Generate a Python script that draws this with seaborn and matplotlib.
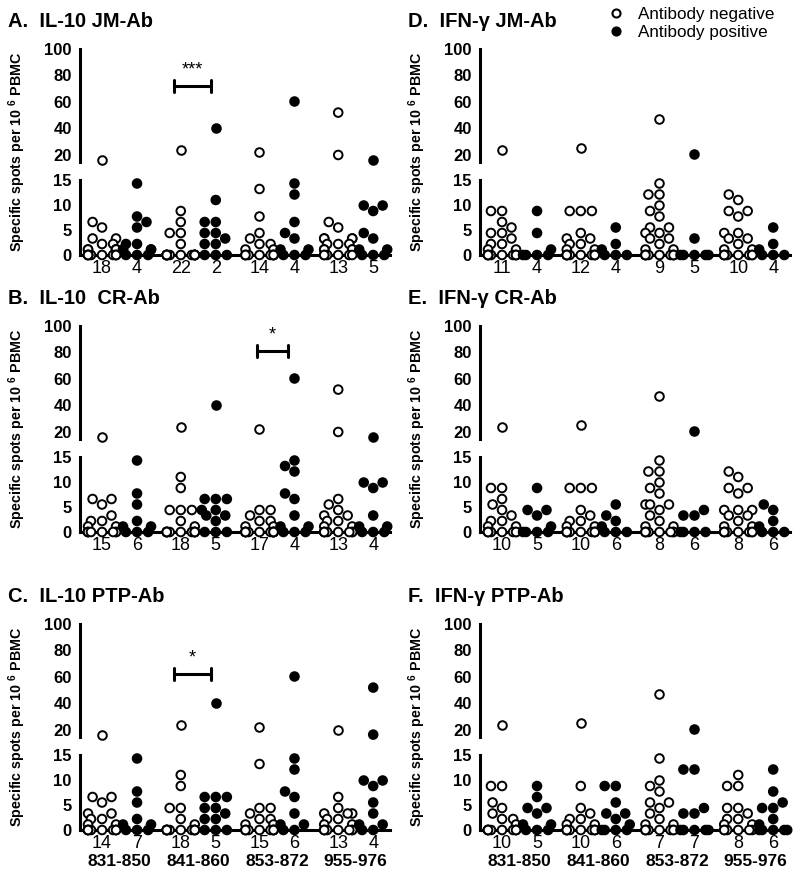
import matplotlib
matplotlib.use('Agg')
import matplotlib.pyplot as plt
from matplotlib.lines import Line2D
import pandas as pd
import seaborn as sns

# ---- data (specific spots per 10^6 PBMC), one list per peptide ----
peptides = ['831-850', '841-860', '853-872', '955-976']

# A. IL-10 JM-Ab
a_neg = [[16, 6.6, 5.5, 3.3, 3.3, 2.2, 2.2, 1.1, 1.1, 1.1, 1.1, 1.1, 0, 0, 0, 0, 0, 0, 0, 0, 0, 0],
         [24, 8.8, 6.6, 4.4, 4.4, 2.2, 0, 0, 0, 0, 0, 0, 0, 0, 0, 0, 0, 0, 0, 0, 0],
         [22, 13.2, 7.7, 4.4, 3.3, 2.2, 2.2, 1.1, 1.1, 0, 0, 0, 0, 0, 0, 0, 0, 0, 0],
         [52, 20, 6.6, 5.5, 3.3, 3.3, 3.3, 3.3, 2.2, 2.2, 2.2, 1.1, 1.1, 1.1, 1.1, 0, 0, 0, 0, 0, 0]]
a_pos = [[14.3, 7.7, 6.6, 5.5, 2.2, 2.2, 1.1, 1.1, 1.1, 1.1, 0, 0, 0],
         [40, 11, 6.6, 6.6, 4.4, 4.4, 3.3, 2.2, 2.2, 0, 0, 0],
         [61, 14.3, 12.1, 6.6, 4.4, 3.3, 1.1, 1.1, 0, 0, 0],
         [16.5, 9.9, 9.9, 8.8, 4.4, 3.3, 1.1, 1.1, 0, 0, 0]]
a_counts = [18, 4, 22, 2, 14, 4, 13, 5]

# B. IL-10 CR-Ab
b_neg = [[16, 6.6, 6.6, 5.5, 3.3, 2.2, 2.2, 1.1, 1.1, 0, 0, 0, 0, 0, 0, 0, 0],
         [24, 11, 8.8, 4.4, 4.4, 4.4, 2.2, 1.1, 0, 0, 0, 0, 0, 0, 0, 0, 0, 0, 0, 0],
         [22, 4.4, 4.4, 3.3, 2.2, 2.2, 1.1, 1.1, 0, 0, 0, 0, 0, 0, 0, 0, 0, 0, 0, 0],
         [52, 20, 6.6, 5.5, 4.4, 3.3, 3.3, 2.2, 2.2, 1.1, 1.1, 0, 0, 0, 0, 0, 0, 0, 0]]
b_pos = [[14.3, 7.7, 5.5, 2.2, 1.1, 1.1, 0, 0, 0],
         [40, 6.6, 6.6, 6.6, 4.4, 4.4, 3.3, 3.3, 2.2, 0, 0, 0],
         [61, 14.3, 13.2, 12.1, 7.7, 6.6, 3.3, 1.1, 1.1, 0, 0, 0],
         [16.5, 9.9, 9.9, 8.8, 3.3, 1.1, 1.1, 0, 0, 0]]
b_counts = [15, 6, 18, 5, 17, 4, 13, 4]

# C. IL-10 PTP-Ab
c_neg = [[16, 6.6, 6.6, 5.5, 3.3, 3.3, 2.2, 2.2, 1.1, 1.1, 0, 0, 0, 0, 0, 0, 0, 0, 0, 0],
         [24, 11, 8.8, 4.4, 4.4, 2.2, 1.1, 0, 0, 0, 0, 0, 0, 0, 0, 0, 0, 0, 0],
         [22, 13.2, 4.4, 4.4, 3.3, 2.2, 2.2, 1.1, 1.1, 0, 0, 0, 0, 0, 0, 0, 0, 0, 0],
         [20, 6.6, 4.4, 3.3, 3.3, 3.3, 2.2, 2.2, 1.1, 1.1, 0, 0, 0, 0, 0, 0, 0, 0]]
c_pos = [[14.3, 7.7, 5.5, 2.2, 1.1, 1.1, 0, 0, 0],
         [40, 6.6, 6.6, 6.6, 4.4, 4.4, 3.3, 2.2, 2.2, 0, 0, 0],
         [61, 14.3, 12.1, 7.7, 6.6, 3.3, 1.1, 1.1, 0, 0],
         [52, 16.5, 9.9, 9.9, 8.8, 5.5, 3.3, 1.1, 1.1, 0, 0]]
c_counts = [14, 7, 18, 5, 15, 6, 13, 4]

# D. IFN-g JM-Ab
d_neg = [[24, 8.8, 8.8, 6.6, 5.5, 4.4, 4.4, 3.3, 2.2, 2.2, 1.1, 1.1, 0, 0, 0, 0, 0, 0, 0, 0, 0, 0],
         [25, 8.8, 8.8, 8.8, 4.4, 3.3, 3.3, 2.2, 2.2, 1.1, 1.1, 0, 0, 0, 0, 0, 0, 0, 0, 0, 0],
         [47, 14.3, 12.1, 12.1, 9.9, 8.8, 7.7, 5.5, 5.5, 4.4, 4.4, 3.3, 3.3, 2.2, 1.1, 1.1, 0, 0, 0, 0, 0, 0, 0, 0, 0, 0],
         [12.1, 11, 8.8, 8.8, 7.7, 4.4, 4.4, 3.3, 3.3, 2.2, 1.1, 1.1, 0, 0, 0, 0, 0, 0, 0, 0]]
d_pos = [[8.8, 4.4, 1.1, 0, 0, 0, 0],
         [5.5, 2.2, 1.1, 0, 0, 0],
         [21, 3.3, 0, 0, 0, 0, 0],
         [5.5, 2.2, 1.1, 0, 0, 0]]
d_counts = [11, 4, 12, 4, 9, 5, 10, 4]

# E. IFN-g CR-Ab
e_neg = [[24, 8.8, 8.8, 6.6, 5.5, 4.4, 3.3, 2.2, 2.2, 1.1, 1.1, 0, 0, 0, 0, 0, 0, 0, 0],
         [25, 8.8, 8.8, 8.8, 4.4, 3.3, 2.2, 2.2, 1.1, 1.1, 0, 0, 0, 0, 0, 0, 0, 0, 0, 0],
         [47, 14.3, 12.1, 12.1, 9.9, 8.8, 7.7, 5.5, 5.5, 5.5, 4.4, 3.3, 2.2, 1.1, 1.1, 0, 0, 0, 0, 0, 0, 0, 0],
         [12.1, 11, 8.8, 8.8, 7.7, 4.4, 4.4, 4.4, 3.3, 3.3, 2.2, 1.1, 1.1, 0, 0, 0, 0, 0, 0, 0, 0]]
e_pos = [[8.8, 4.4, 4.4, 3.3, 1.1, 0, 0, 0, 0],
         [5.5, 3.3, 2.2, 1.1, 0, 0, 0],
         [21, 4.4, 3.3, 3.3, 0, 0, 0, 0],
         [5.5, 4.4, 2.2, 1.1, 0, 0, 0]]
e_counts = [10, 5, 10, 6, 8, 6, 8, 6]

# F. IFN-g PTP-Ab
f_neg = [[24, 8.8, 8.8, 5.5, 4.4, 3.3, 2.2, 2.2, 1.1, 0, 0, 0, 0, 0, 0, 0, 0, 0, 0],
         [25, 8.8, 4.4, 3.3, 2.2, 2.2, 1.1, 1.1, 0, 0, 0, 0, 0, 0, 0, 0, 0, 0],
         [47, 14.3, 9.9, 8.8, 7.7, 5.5, 5.5, 4.4, 3.3, 2.2, 1.1, 1.1, 0, 0, 0, 0, 0, 0, 0, 0],
         [11, 8.8, 8.8, 4.4, 4.4, 3.3, 2.2, 2.2, 1.1, 1.1, 0, 0, 0, 0, 0, 0]]
f_pos = [[8.8, 6.6, 4.4, 4.4, 3.3, 1.1, 1.1, 0, 0, 0],
         [8.8, 8.8, 5.5, 3.3, 3.3, 2.2, 1.1, 0, 0, 0, 0],
         [21, 12.1, 12.1, 4.4, 3.3, 3.3, 0, 0, 0, 0, 0],
         [12.1, 7.7, 5.5, 4.4, 4.4, 2.2, 1.1, 0, 0, 0, 0, 0]]
f_counts = [10, 5, 10, 6, 7, 7, 8, 6]

titles = ['A.  IL-10 JM-Ab', 'B.  IL-10  CR-Ab', 'C.  IL-10 PTP-Ab',
          'D.  IFN-γ JM-Ab', 'E.  IFN-γ CR-Ab', 'F.  IFN-γ PTP-Ab']

# significance bars: (panel index, x from, x to, height, label)
brackets = [(0, 2.05, 3.1, 72, '***'), (1, 4.43, 5.31, 81, '*'), (2, 2.05, 3.1, 62, '*')]

# ---- figure ----
sns.set_style('white')
plt.rcParams['font.family'] = ['Liberation Sans', 'DejaVu Sans']
plt.rcParams['mathtext.default'] = 'regular'
for k in ('text.color', 'axes.labelcolor', 'xtick.color', 'ytick.color', 'axes.edgecolor'):
    plt.rcParams[k] = 'black'

W, H = 800, 886
fig = plt.figure(figsize=(W / 100, H / 100), dpi=100)


def px(l, t, w, h):
    return [l / W, 1 - (t + h) / H, w / W, h / H]


GAP = 2.25
LW = 2.2
row_off = [0, 277, 575]
col_left = [80, 480]


def to_frame(neg, pos):
    rows = []
    for g in range(4):
        for v in neg[g]:
            rows.append((g * GAP, v, 'neg'))
        for v in pos[g]:
            rows.append((g * GAP + 1, v, 'pos'))
    return pd.DataFrame(rows, columns=['x', 'y', 'ab'])


def swarm(ax, df):
    sns.swarmplot(data=df, x='x', y='y', hue='ab', hue_order=['neg', 'pos'],
                  palette={'neg': 'white', 'pos': 'black'}, native_scale=True,
                  orient='x', size=6.2, edgecolor='black', linewidth=1.4,
                  legend=False, warn_thresh=1, ax=ax)
    for c in ax.collections:
        c.set_clip_on(False)
        c.set_zorder(4)


panels = [(a_neg, a_pos, a_counts), (b_neg, b_pos, b_counts), (c_neg, c_pos, c_counts),
          (d_neg, d_pos, d_counts), (e_neg, e_pos, e_counts), (f_neg, f_pos, f_counts)]

up_axes = []
for i, (neg, pos, counts) in enumerate(panels):
    col, row = divmod(i, 3)
    left, off = col_left[col], row_off[row]
    df = to_frame(neg, pos)

    ax_up = fig.add_axes(px(left, 49 + off, 310, 112.6))
    ax_lo = fig.add_axes(px(left, 180 + off, 310, 75))
    swarm(ax_up, df[df.y > 15])
    swarm(ax_lo, df[df.y <= 15])

    for ax in (ax_up, ax_lo):
        ax.set_xlim(-0.63, 8.23)
        ax.set_xlabel('')
        ax.set_ylabel('')
        for s in ('top', 'right'):
            ax.spines[s].set_visible(False)
        ax.spines['left'].set_linewidth(LW)
        ax.tick_params(axis='y', direction='out', length=5, width=LW, pad=1)

    ax_up.set_ylim(15, 100)
    ax_up.spines['bottom'].set_visible(False)
    ax_up.set_yticks([15, 20, 40, 60, 80, 100])
    ax_up.set_yticklabels(['', '20', '40', '60', '80', '100'], fontweight='bold', fontsize=12)
    ax_up.set_xticks([])

    ax_lo.set_ylim(0, 15)
    ax_lo.spines['bottom'].set_linewidth(LW)
    ax_lo.set_yticks([0, 5, 10, 15])
    ax_lo.set_yticklabels(['0', '5', '10', '15'], fontweight='bold', fontsize=12)
    ax_lo.set_xticks([g * GAP + 0.5 for g in range(4)])
    ax_lo.set_xticklabels([])
    ax_lo.tick_params(axis='x', direction='out', length=6, width=LW)

    # group sizes under each column
    for k, n in enumerate(counts):
        ax_lo.text((k // 2) * GAP + (k % 2), -2.7, str(n), ha='center', va='center',
                   fontsize=13, clip_on=False)
    if row == 2:
        for g, p in enumerate(peptides):
            ax_lo.text(g * GAP + 0.5, -6.3, p, ha='center', va='center',
                       fontsize=12.5, fontweight='bold', clip_on=False)

    fig.text((left - 72) / W, 1 - (27 + off) / H, titles[i], fontsize=14.5,
             fontweight='bold', ha='left', va='baseline')
    fig.text((left - 63) / W, 1 - (152 + off) / H, 'Specific spots per 10 $^{6}$ PBMC',
             rotation=90, fontsize=10.3, fontweight='bold', ha='center', va='center')
    up_axes.append(ax_up)

for idx, x0, x1, yv, lab in brackets:
    ax = up_axes[idx]
    ax.plot([x0, x1], [yv, yv], color='black', lw=LW, clip_on=False, solid_capstyle='butt')
    ax.plot([x0, x0], [yv - 4.5, yv + 4.5], color='black', lw=LW, clip_on=False)
    ax.plot([x1, x1], [yv - 4.5, yv + 4.5], color='black', lw=LW, clip_on=False)
    ax.text((x0 + x1) / 2, yv + 6, lab, ha='center', va='bottom', fontsize=13)

handles = [Line2D([], [], ls='none', marker='o', ms=5.8, mfc='white', mec='black', mew=1.5),
           Line2D([], [], ls='none', marker='o', ms=5.8, mfc='black', mec='black', mew=1.5)]
fig.legend(handles, ['Antibody negative', 'Antibody positive'], loc='upper left',
           bbox_to_anchor=(607 / W, 1 - 7 / H), frameon=False, fontsize=12.3,
           handlelength=1, handletextpad=0.8, labelspacing=0.2, borderpad=0,
           borderaxespad=0)

plt.savefig('out.png', dpi=100)
